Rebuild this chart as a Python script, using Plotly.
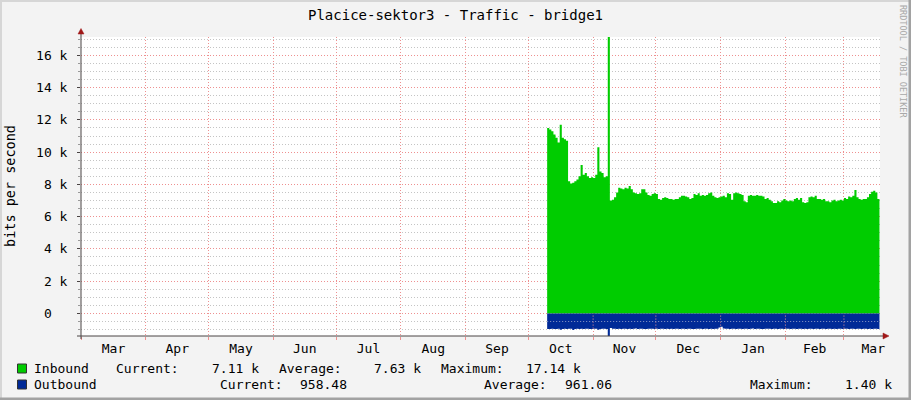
import pandas as pd
import plotly.graph_objects as go

# ---------------- data ----------------
title_text = "Placice-sektor3 - Traffic - bridge1"
y_title = "bits per second"
watermark = "RRDTOOL / TOBI OETIKER"

dates = pd.date_range("2014-10-10", "2015-03-18", freq="D")

inbound = [
    11500, 11400, 11300, 11100, 10900, 10600, 11700, 10900, 10800, 10700,
    8200, 8050, 8100, 8200, 8300, 8500, 9200, 8600, 8700, 8500,
    8400, 8450, 8400, 8600, 10300, 8800, 8700, 8450, 8500, 17140,
    7000, 7050, 7200, 7500, 7800, 7750, 7700, 7800, 7750, 7900,
    7700, 7500, 7450, 7400, 7450, 7700, 7700, 7500, 7350, 7300,
    7400, 7450, 7400, 7100, 7050, 7150, 7200, 7150, 7100, 7100,
    7050, 7100, 7100, 7200, 7300, 7300, 7250, 7200, 7100, 7150,
    7400, 7350, 7450, 7300, 7350, 7300, 7350, 7450, 7500, 7300,
    7200, 7150, 7200, 7250, 7300, 7200, 7450, 7400, 7050, 7450,
    7500, 7450, 7400, 7350, 6950, 6900, 7300, 7350, 7300, 7300,
    7350, 7300, 7300, 7250, 7100, 7150, 7050, 6950, 6850, 6850,
    6950, 6900, 7000, 7100, 7000, 6950, 7000, 6950, 7100, 7150,
    7050, 7150, 6900, 6850, 6900, 7200, 7250, 7200, 7300, 7100,
    7100, 7050, 7100, 6950, 6950, 6900, 7000, 7050, 6950, 7000,
    7050, 7000, 7150, 7100, 7250, 7200, 7300, 7650, 7200, 7100,
    7050, 7100, 7100, 7200, 7400, 7550, 7600, 7500, 7100, 7110,
]

outbound = [
    960, 965, 958, 962, 970, 955, 1010, 960, 958, 962,
    955, 950, 1030, 960, 958, 962, 955, 960, 950, 958,
    962, 960, 955, 958, 1020, 960, 955, 958, 962, 1400,
    900, 945, 955, 960, 958, 962, 955, 958, 960, 955,
    962, 958, 940, 960, 955, 958, 962, 960, 945, 958,
    955, 960, 958, 962, 950, 958, 960, 955, 962, 958,
    960, 958, 955, 962, 950, 958, 960, 955, 958, 962,
    960, 955, 958, 945, 962, 958, 955, 960, 958, 962,
    955, 958, 880, 820, 940, 958, 955, 960, 945, 958,
    962, 955, 958, 960, 958, 955, 962, 958, 940, 960,
    958, 955, 962, 960, 958, 950, 958, 962, 955, 958,
    960, 958, 955, 962, 958, 945, 960, 955, 958, 962,
    958, 955, 960, 958, 962, 955, 958, 960, 945, 958,
    962, 955, 958, 960, 958, 955, 962, 958, 960, 955,
    958, 962, 955, 958, 960, 958, 945, 962, 958, 955,
    960, 958, 955, 962, 958, 960, 955, 958, 960, 958.48,
]

y_tick_vals = [0, 2000, 4000, 6000, 8000, 10000, 12000, 14000, 16000]
y_tick_text = ["0<span style='color:rgba(0,0,0,0)'> k</span>", "2 k", "4 k", "6 k", "8 k",
               "10 k", "12 k", "14 k", "16 k"]

legend_in = ["Inbound", "Current:", "7.11 k", "Average:", "7.63 k", "Maximum:", "17.14 k"]
legend_out = ["Outbound", "Current:", "958.48", "Average:", "961.06", "Maximum:", "1.40 k"]

month_starts_in_data = ["2014-11-01", "2014-12-01", "2015-01-01", "2015-02-01", "2015-03-01"]

# ---------------- style ----------------
W, H = 911, 400
L, R, T, B = 81, 31, 37, 64
PW, PH = W - L - R, H - T - B
FONT = "DejaVu Sans Mono"
FS = 13
GREEN = "#00CC00"
BLUE = "#002A97"
BG = "#F3F3F3"
RED_GRID = "#EE9090"
GREY_GRID = "#C4C4C4"
AXIS_COL = "#4A4444"
ARROW_COL = "#A01818"


def px(p):
    return (p - L) / PW


def py(p):
    return (H - B - p) / PH


fig = go.Figure()
fig.add_trace(go.Scatter(
    x=dates, y=inbound, mode="lines", line=dict(width=0, shape="hv", color=GREEN),
    fill="tozeroy", fillcolor=GREEN, hoverinfo="skip", showlegend=False))
fig.add_trace(go.Scatter(
    x=dates, y=[-v for v in outbound], mode="lines", line=dict(width=0, shape="hv", color=BLUE),
    fill="tozeroy", fillcolor=BLUE, hoverinfo="skip", showlegend=False))

fig.update_layout(
    width=W, height=H,
    margin=dict(l=L, r=R, t=T, b=B, pad=0),
    paper_bgcolor=BG, plot_bgcolor="#FFFFFF",
    font=dict(family=FONT, size=FS, color="#000000"),
    title=dict(text=title_text, x=0.5, xref="container", xanchor="center",
               y=1 - 15 / H, yref="container", yanchor="middle",
               font=dict(family=FONT, size=14, color="#000000")),
    showlegend=False,
)

fig.update_xaxes(
    type="date",
    range=["2014-02-28 23:00", "2015-03-18 06:00"],
    tick0="2014-03-01", dtick="M1", tickformat="%b", ticklabelmode="period",
    showgrid=True, gridcolor=RED_GRID, griddash="1px,2px", gridwidth=1,
    ticks="outside", ticklen=3, tickcolor=RED_GRID, ticklabelstandoff=-3,
    showline=False, zeroline=False,
    tickfont=dict(family=FONT, size=FS, color="#000000"),
)

fig.update_yaxes(
    range=[-1400, 17140],
    tickmode="array", tickvals=y_tick_vals, ticktext=y_tick_text,
    showgrid=True, gridcolor=RED_GRID, griddash="1px,2px", gridwidth=1,
    ticks="outside", ticklen=3, tickcolor=AXIS_COL, ticklabelstandoff=7,
    minor=dict(dtick=500, tick0=0, showgrid=True, gridcolor=GREY_GRID, griddash="1px,2px",
               ticks="outside", ticklen=2, tickcolor="#999999"),
    showline=False, zeroline=False,
    tickfont=dict(family=FONT, size=FS, color="#000000"),
)

shapes = []
# grid visible across outbound area
for d in month_starts_in_data:
    shapes.append(dict(type="line", xref="x", yref="y", x0=d, x1=d, y0=-940, y1=0,
                       line=dict(color=RED_GRID, width=1, dash="1px,2px"), layer="above"))
shapes.append(dict(type="line", xref="x", yref="y", x0=dates[0], x1=dates[-1], y0=-500, y1=-500,
                   line=dict(color="#8E9CC8", width=1, dash="1px,2px"), layer="above"))
# axes lines + arrows
shapes.append(dict(type="line", xref="paper", yref="paper", x0=px(81), x1=px(81), y0=py(339), y1=py(33),
                   line=dict(color=AXIS_COL, width=1), layer="above"))
shapes.append(dict(type="line", xref="paper", yref="paper", x0=px(77), x1=px(884), y0=py(336), y1=py(336),
                   line=dict(color=AXIS_COL, width=1), layer="above"))
shapes.append(dict(type="path", xref="paper", yref="paper",
                   path=f"M {px(78)},{py(34)} L {px(84)},{py(34)} L {px(81)},{py(28.5)} Z",
                   fillcolor=ARROW_COL, line=dict(color=ARROW_COL, width=0.5), layer="above"))
shapes.append(dict(type="path", xref="paper", yref="paper",
                   path=f"M {px(883)},{py(333)} L {px(883)},{py(339)} L {px(889)},{py(336)} Z",
                   fillcolor=ARROW_COL, line=dict(color=ARROW_COL, width=0.5), layer="above"))
# legend swatches
shapes.append(dict(type="rect", xref="paper", yref="paper", x0=px(17.5), x1=px(26.5), y0=py(373), y1=py(364),
                   fillcolor=GREEN, line=dict(color="#333333", width=1)))
shapes.append(dict(type="rect", xref="paper", yref="paper", x0=px(17.5), x1=px(26.5), y0=py(389), y1=py(380),
                   fillcolor=BLUE, line=dict(color="#333333", width=1)))
# frame (3D border)
shapes.append(dict(type="rect", xref="paper", yref="paper", x0=px(0), x1=px(2), y0=py(0), y1=py(400),
                   fillcolor="#D6D6D6", line=dict(width=0)))
shapes.append(dict(type="rect", xref="paper", yref="paper", x0=px(0), x1=px(911), y0=py(0), y1=py(2),
                   fillcolor="#D6D6D6", line=dict(width=0)))
shapes.append(dict(type="rect", xref="paper", yref="paper", x0=px(908.5), x1=px(911), y0=py(0), y1=py(400),
                   fillcolor="#A2A2A2", line=dict(width=0)))
shapes.append(dict(type="rect", xref="paper", yref="paper", x0=px(0), x1=px(911), y0=py(397.5), y1=py(400),
                   fillcolor="#A2A2A2", line=dict(width=0)))
fig.update_layout(shapes=shapes)

ann = []


def txt(s, x, y, anchor="left", size=FS, color="#000000", angle=0):
    ann.append(dict(text=s, x=px(x), y=py(y), xref="paper", yref="paper", xanchor=anchor,
                    yanchor="middle", showarrow=False, borderpad=0, borderwidth=0,
                    textangle=angle, font=dict(family=FONT, size=size, color=color)))


# y axis title
txt(y_title, 10, 186, anchor="center", size=13.5, angle=-90)
# watermark
txt(watermark, 903, 61, anchor="center", size=8.5, color="#A8A8A8", angle=90)

# legend line 1
y1 = 368.3
txt(legend_in[0], 34, y1)
txt(legend_in[1], 116, y1)
txt(legend_in[2], 259, y1, anchor="right")
txt(legend_in[3], 279, y1)
txt(legend_in[4], 421, y1, anchor="right")
txt(legend_in[5], 441, y1)
txt(legend_in[6], 581, y1, anchor="right")
# legend line 2
y2 = 384.3
txt(legend_out[0], 34, y2)
txt(legend_out[1], 220, y2)
txt(legend_out[2], 347, y2, anchor="right")
txt(legend_out[3], 484, y2)
txt(legend_out[4], 612, y2, anchor="right")
txt(legend_out[5], 750, y2)
txt(legend_out[6], 892, y2, anchor="right")

fig.update_layout(annotations=ann)

fig.write_html("out.html", config={"displayModeBar": False},
               post_script="document.body.style.margin='0';document.body.style.overflow='hidden';")
